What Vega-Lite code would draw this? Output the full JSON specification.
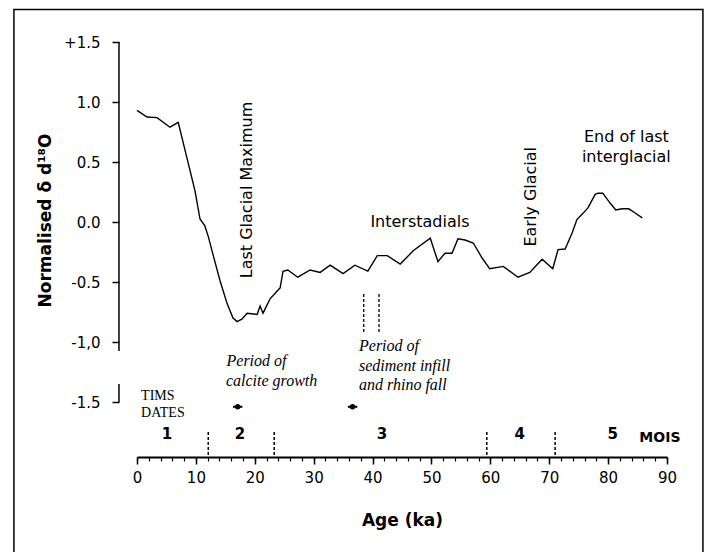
{
  "$schema": "https://vega.github.io/schema/vega-lite/v6.json",
  "width": 530,
  "height": 360,
  "autosize": {"type": "none"},
  "padding": {"left": 137, "top": 42, "right": 43, "bottom": 150},
  "background": "white",
  "config": {"view": {"stroke": null}},
  "datasets": {
    "curve": [
      {"age": 0, "v": 0.93}, {"age": 1.7, "v": 0.875}, {"age": 3.4, "v": 0.87}, {"age": 5.6, "v": 0.79},
      {"age": 7.0, "v": 0.83}, {"age": 8.5, "v": 0.53}, {"age": 9.85, "v": 0.26}, {"age": 10.7, "v": 0.025},
      {"age": 11.5, "v": -0.03}, {"age": 12.1, "v": -0.12}, {"age": 12.9, "v": -0.27}, {"age": 14.1, "v": -0.49},
      {"age": 15.3, "v": -0.68}, {"age": 16.3, "v": -0.8}, {"age": 17.0, "v": -0.83}, {"age": 17.8, "v": -0.81},
      {"age": 18.7, "v": -0.76}, {"age": 20.4, "v": -0.77}, {"age": 20.9, "v": -0.7}, {"age": 21.4, "v": -0.76},
      {"age": 21.8, "v": -0.72}, {"age": 22.6, "v": -0.64}, {"age": 23.8, "v": -0.575}, {"age": 24.3, "v": -0.55},
      {"age": 24.8, "v": -0.41}, {"age": 25.6, "v": -0.4}, {"age": 27.3, "v": -0.46}, {"age": 29.4, "v": -0.4},
      {"age": 31.1, "v": -0.42}, {"age": 32.8, "v": -0.36}, {"age": 35.0, "v": -0.43}, {"age": 37.0, "v": -0.36},
      {"age": 39.2, "v": -0.41}, {"age": 40.8, "v": -0.28}, {"age": 42.5, "v": -0.28}, {"age": 44.7, "v": -0.35},
      {"age": 46.9, "v": -0.24}, {"age": 49.8, "v": -0.135}, {"age": 51.1, "v": -0.33}, {"age": 52.3, "v": -0.26},
      {"age": 53.5, "v": -0.26}, {"age": 54.5, "v": -0.14}, {"age": 55.7, "v": -0.15}, {"age": 57.1, "v": -0.175},
      {"age": 58.6, "v": -0.3}, {"age": 59.9, "v": -0.39}, {"age": 62.2, "v": -0.37}, {"age": 64.7, "v": -0.46},
      {"age": 66.7, "v": -0.42}, {"age": 68.8, "v": -0.31}, {"age": 70.6, "v": -0.39}, {"age": 71.5, "v": -0.23},
      {"age": 72.7, "v": -0.225}, {"age": 73.9, "v": -0.09}, {"age": 74.7, "v": 0.02}, {"age": 75.7, "v": 0.07},
      {"age": 76.6, "v": 0.12}, {"age": 77.8, "v": 0.23}, {"age": 78.3, "v": 0.24}, {"age": 79.1, "v": 0.24},
      {"age": 80.3, "v": 0.16}, {"age": 81.3, "v": 0.1}, {"age": 82.4, "v": 0.11}, {"age": 83.5, "v": 0.11},
      {"age": 84.6, "v": 0.075}, {"age": 85.8, "v": 0.035}
    ],
    "frame": [{"age": -20.9, "age2": 96.1, "v": 1.77, "v2": -3.5}],
    "yline": [{"age": -3.06, "v": 1.5, "v2": -1.075}, {"age": -3.06, "v": -1.35, "v2": -1.5}],
    "moisBounds": [
      {"age": 12.1, "v": -1.75, "v2": -1.967}, {"age": 23.3, "v": -1.75, "v2": -1.967},
      {"age": 59.4, "v": -1.75, "v2": -1.967}, {"age": 71.0, "v": -1.75, "v2": -1.967}
    ],
    "periodLines": [{"age": 38.5, "v": -0.6, "v2": -0.925}, {"age": 41.1, "v": -0.6, "v2": -0.925}],
    "tims": [{"age": 17.1, "lo": 16.3, "hi": 17.9, "v": -1.54}, {"age": 36.6, "lo": 35.8, "hi": 37.4, "v": -1.54}],
    "labelsH": [
      {"age": 48.05, "v": 0.0, "text": "Interstadials"},
      {"age": 83.1, "v": 0.71, "text": "End of last"},
      {"age": 83.1, "v": 0.545, "text": "interglacial"}
    ],
    "labelsV": [
      {"age": 18.6, "v": 0.267, "text": "Last Glacial Maximum"},
      {"age": 66.85, "v": 0.21, "text": "Early Glacial"}
    ],
    "italic": [
      {"age": 15.2, "v": -1.16, "text": "Period of"},
      {"age": 15.1, "v": -1.325, "text": "calcite growth"},
      {"age": 37.7, "v": -1.03, "text": "Period of"},
      {"age": 37.7, "v": -1.2, "text": "sediment infill"},
      {"age": 37.7, "v": -1.36, "text": "and rhino fall"}
    ],
    "tmsText": [
      {"age": 0.7, "v": -1.45, "text": "TIMS"},
      {"age": 0.7, "v": -1.59, "text": "DATES"}
    ],
    "mois": [
      {"age": 5.1, "v": -1.767, "text": "1"}, {"age": 17.5, "v": -1.767, "text": "2"},
      {"age": 41.6, "v": -1.767, "text": "3"}, {"age": 65.0, "v": -1.767, "text": "4"},
      {"age": 80.8, "v": -1.767, "text": "5"}
    ],
    "moisTitle": [{"age": 88.8, "v": -1.8, "text": "MOIS"}]
  },
  "resolve": {"axis": {"x": "independent", "y": "independent"}},
  "layer": [
    {
      "data": {"name": "frame"},
      "mark": {"type": "rect", "fill": null, "stroke": "black", "strokeWidth": 1.5, "clip": false},
      "encoding": {
        "x": {"field": "age", "type": "quantitative", "scale": {"domain": [0, 90], "nice": false, "zero": false}, "axis": null},
        "x2": {"field": "age2"},
        "y": {"field": "v", "type": "quantitative", "scale": {"domain": [-1.5, 1.5], "nice": false, "zero": false}, "axis": null},
        "y2": {"field": "v2"}
      }
    },
    {
      "data": {"name": "yline"},
      "mark": {"type": "rule", "stroke": "black", "strokeWidth": 1.5},
      "encoding": {
        "x": {"field": "age", "type": "quantitative", "scale": {"domain": [0, 90], "nice": false, "zero": false}, "axis": null},
        "y": {"field": "v", "type": "quantitative", "scale": {"domain": [-1.5, 1.5], "nice": false, "zero": false}, "axis": null},
        "y2": {"field": "v2"}
      }
    },
    {
      "data": {"name": "curve"},
      "mark": {"type": "line", "stroke": "black", "strokeWidth": 1.4},
      "encoding": {
        "x": {
          "field": "age", "type": "quantitative",
          "scale": {"domain": [0, 90], "nice": false, "zero": false},
          "axis": {
            "orient": "bottom", "offset": 55, "values": [0, 10, 20, 30, 40, 50, 60, 70, 80, 90],
            "grid": false, "tickSize": 7, "tickWidth": 1.5, "tickColor": "black",
            "domainColor": "black", "domainWidth": 2,
            "labelFont": "DejaVu Sans", "labelFontSize": 15, "labelColor": "black", "labelPadding": 6, "labelFlush": false,
            "title": "Age (ka)", "titleFont": "DejaVu Sans", "titleFontSize": 17, "titleFontWeight": "bold",
            "titleColor": "black", "titleY": 63, "titleBaseline": "middle"
          }
        },
        "y": {
          "field": "v", "type": "quantitative",
          "scale": {"domain": [-1.5, 1.5], "nice": false, "zero": false},
          "axis": {
            "orient": "left", "offset": 18, "values": [-1.5, -1, -0.5, 0, 0.5, 1, 1.5],
            "grid": false, "domain": false, "tickSize": 7, "tickWidth": 1.5, "tickColor": "black",
            "labelFont": "DejaVu Sans", "labelFontSize": 15, "labelColor": "black", "labelPadding": 12,
            "labelExpr": "datum.value == 1.5 ? '+1.5' : datum.value == 1 ? '1.0' : datum.value == 0.5 ? '0.5' : datum.value == 0 ? '0.0' : datum.value == -0.5 ? '-0.5' : datum.value == -1 ? '-1,0' : '-1.5'",
            "title": "Normalised δ d¹⁸O", "titleFont": "DejaVu Sans", "titleFontSize": 17, "titleFontWeight": "bold",
            "titleColor": "black", "titleAngle": 270, "titleX": -74, "titleY": 178, "titleAlign": "center", "titleBaseline": "middle"
          }
        }
      }
    },
    {
      "data": {"name": "moisBounds"},
      "mark": {"type": "rule", "stroke": "black", "strokeWidth": 1.5, "strokeDash": [3, 2]},
      "encoding": {
        "x": {
          "field": "age", "type": "quantitative",
          "scale": {"domain": [0, 90], "nice": false, "zero": false},
          "axis": {
            "orient": "bottom", "offset": 55,
            "values": [0, 2, 4, 6, 8, 10, 12, 14, 16, 18, 20, 22, 24, 26, 28, 30, 32, 34, 36, 38, 40, 42, 44, 46, 48, 50, 52, 54, 56, 58, 60, 62, 64, 66, 68, 70, 72, 74, 76, 78, 80, 82, 84, 86, 88, 90],
            "grid": false, "domain": false, "labels": false, "title": null,
            "tickSize": 4, "tickWidth": 1.2, "tickColor": "black"
          }
        },
        "y": {"field": "v", "type": "quantitative", "scale": {"domain": [-1.5, 1.5], "nice": false, "zero": false}, "axis": null},
        "y2": {"field": "v2"}
      }
    },
    {
      "data": {"name": "periodLines"},
      "mark": {"type": "rule", "stroke": "black", "strokeWidth": 1.3, "strokeDash": [3, 2]},
      "encoding": {
        "x": {"field": "age", "type": "quantitative", "scale": {"domain": [0, 90], "nice": false, "zero": false}, "axis": null},
        "y": {"field": "v", "type": "quantitative", "scale": {"domain": [-1.5, 1.5], "nice": false, "zero": false}, "axis": null},
        "y2": {"field": "v2"}
      }
    },
    {
      "data": {"name": "tims"},
      "mark": {"type": "rule", "stroke": "black", "strokeWidth": 2},
      "encoding": {
        "x": {"field": "lo", "type": "quantitative", "scale": {"domain": [0, 90], "nice": false, "zero": false}, "axis": null},
        "x2": {"field": "hi"},
        "y": {"field": "v", "type": "quantitative", "scale": {"domain": [-1.5, 1.5], "nice": false, "zero": false}, "axis": null}
      }
    },
    {
      "data": {"name": "tims"},
      "mark": {"type": "point", "shape": "circle", "filled": true, "color": "black", "size": 30, "opacity": 1},
      "encoding": {
        "x": {"field": "age", "type": "quantitative", "scale": {"domain": [0, 90], "nice": false, "zero": false}, "axis": null},
        "y": {"field": "v", "type": "quantitative", "scale": {"domain": [-1.5, 1.5], "nice": false, "zero": false}, "axis": null}
      }
    },
    {
      "data": {"name": "labelsH"},
      "mark": {"type": "text", "font": "DejaVu Sans", "fontSize": 16, "color": "black", "align": "center", "baseline": "middle"},
      "encoding": {
        "x": {"field": "age", "type": "quantitative", "scale": {"domain": [0, 90], "nice": false, "zero": false}, "axis": null},
        "y": {"field": "v", "type": "quantitative", "scale": {"domain": [-1.5, 1.5], "nice": false, "zero": false}, "axis": null},
        "text": {"field": "text"}
      }
    },
    {
      "data": {"name": "labelsV"},
      "mark": {"type": "text", "font": "DejaVu Sans", "fontSize": 16, "color": "black", "align": "center", "baseline": "middle", "angle": 270},
      "encoding": {
        "x": {"field": "age", "type": "quantitative", "scale": {"domain": [0, 90], "nice": false, "zero": false}, "axis": null},
        "y": {"field": "v", "type": "quantitative", "scale": {"domain": [-1.5, 1.5], "nice": false, "zero": false}, "axis": null},
        "text": {"field": "text"}
      }
    },
    {
      "data": {"name": "italic"},
      "mark": {"type": "text", "font": "Liberation Serif", "fontStyle": "italic", "fontSize": 16, "color": "black", "align": "left", "baseline": "middle"},
      "encoding": {
        "x": {"field": "age", "type": "quantitative", "scale": {"domain": [0, 90], "nice": false, "zero": false}, "axis": null},
        "y": {"field": "v", "type": "quantitative", "scale": {"domain": [-1.5, 1.5], "nice": false, "zero": false}, "axis": null},
        "text": {"field": "text"}
      }
    },
    {
      "data": {"name": "tmsText"},
      "mark": {"type": "text", "font": "Liberation Serif", "fontSize": 14, "color": "black", "align": "left", "baseline": "middle"},
      "encoding": {
        "x": {"field": "age", "type": "quantitative", "scale": {"domain": [0, 90], "nice": false, "zero": false}, "axis": null},
        "y": {"field": "v", "type": "quantitative", "scale": {"domain": [-1.5, 1.5], "nice": false, "zero": false}, "axis": null},
        "text": {"field": "text"}
      }
    },
    {
      "data": {"name": "mois"},
      "mark": {"type": "text", "font": "DejaVu Sans", "fontWeight": "bold", "fontSize": 15, "color": "black", "align": "center", "baseline": "middle"},
      "encoding": {
        "x": {"field": "age", "type": "quantitative", "scale": {"domain": [0, 90], "nice": false, "zero": false}, "axis": null},
        "y": {"field": "v", "type": "quantitative", "scale": {"domain": [-1.5, 1.5], "nice": false, "zero": false}, "axis": null},
        "text": {"field": "text"}
      }
    },
    {
      "data": {"name": "moisTitle"},
      "mark": {"type": "text", "font": "DejaVu Sans", "fontWeight": "bold", "fontSize": 14, "color": "black", "align": "center", "baseline": "middle"},
      "encoding": {
        "x": {"field": "age", "type": "quantitative", "scale": {"domain": [0, 90], "nice": false, "zero": false}, "axis": null},
        "y": {"field": "v", "type": "quantitative", "scale": {"domain": [-1.5, 1.5], "nice": false, "zero": false}, "axis": null},
        "text": {"field": "text"}
      }
    }
  ]
}
